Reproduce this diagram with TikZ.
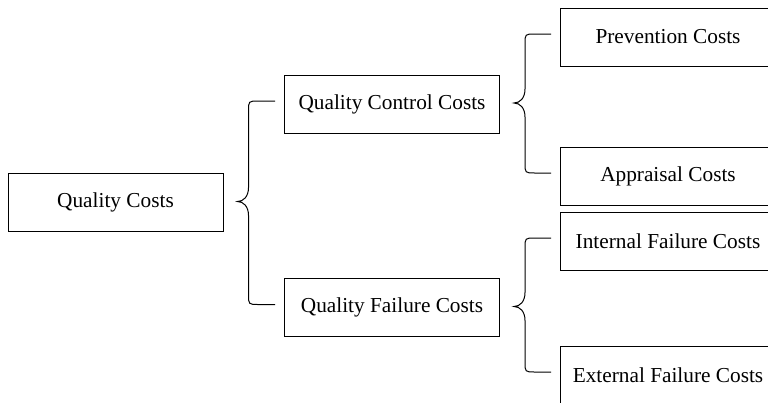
\documentclass[tikz,border=0pt]{standalone}
\usepackage{fontspec}
\setmainfont{Liberation Serif}
\usetikzlibrary{calc}

\begin{document}
\begin{tikzpicture}[x=1pt, y=-1pt, line width=1pt,
  costbox/.style={draw, minimum width=215pt, minimum height=58pt, inner sep=0pt,
    font=\fontsize{21.3}{25}\selectfont}]
\clip (0,0) rectangle (768,402);
\node [costbox] (qc) at (115.5,202.5) {Quality Costs};
\node [costbox] (qcc) at (392,104) {Quality Control Costs};
\node [costbox] (qfc) at (392,307.5) {Quality Failure Costs};
\node [costbox] (pc) at (668,37) {Prevention Costs};
\node [costbox] (ac) at (668,176) {Appraisal Costs};
\node [costbox] (ifc) at (668,241) {Internal Failure Costs};
\node [costbox] (efc) at (668,375) {External Failure Costs};
% curly braces from each parent to its two parts
\foreach \p/\a/\b in {qc/qcc/qfc, qcc/pc/ac, qfc/ifc/efc} {
  \coordinate (tip) at ($(\p.east)+(14,-1)$);
  \coordinate (ta) at ($(\a.west)+(-9,-3)$);
  \coordinate (tb) at ($(\b.west)+(-9,-3)$);
  \draw (ta) -- ($(ta -| tip)+(21,0)$)
    .. controls ($(ta -| tip)+(11,0)$) .. ($(ta -| tip)+(11,10)$)
    -- ($(tip)+(11,-14)$)
    .. controls ($(tip)+(11,-5)$) and ($(tip)+(6,0)$) .. (tip)
    .. controls ($(tip)+(6,0)$) and ($(tip)+(11,5)$) .. ($(tip)+(11,14)$)
    -- ($(tb -| tip)+(11,-10)$)
    .. controls ($(tb -| tip)+(11,0)$) .. ($(tb -| tip)+(21,0)$) -- (tb);
}
\end{tikzpicture}
\end{document}
